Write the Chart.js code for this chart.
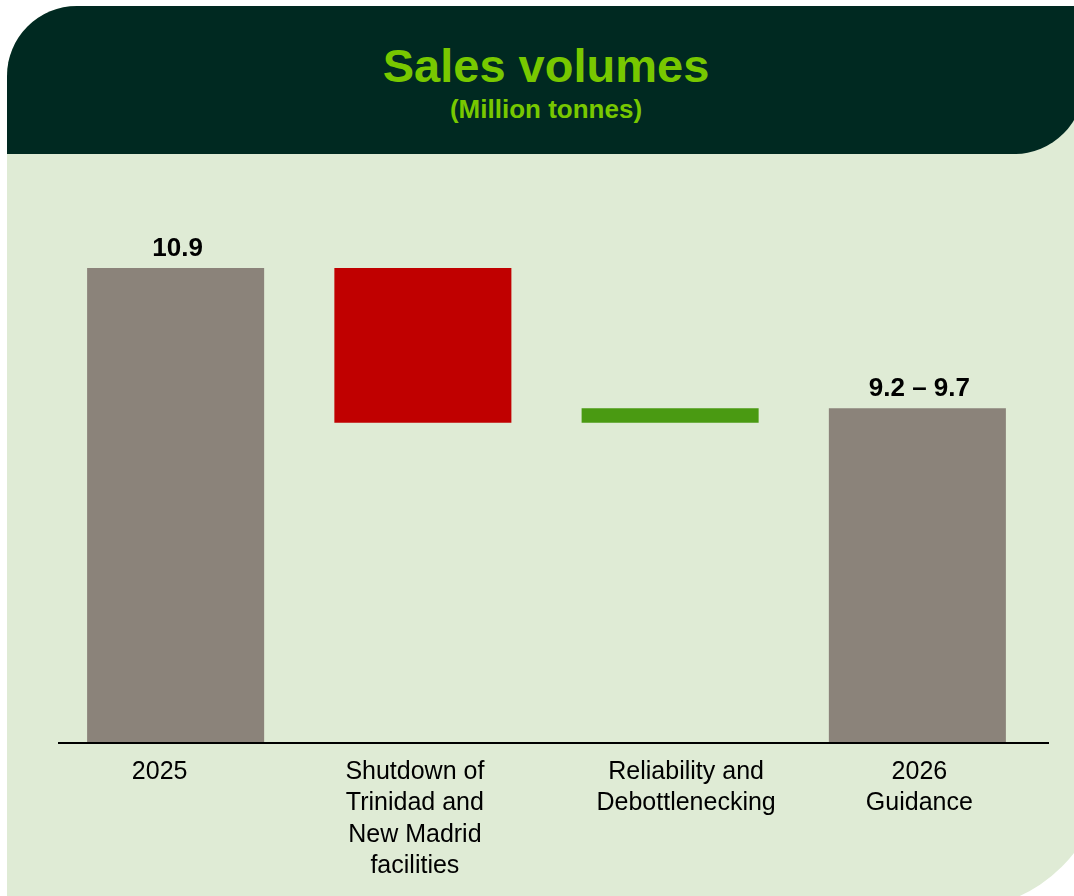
<!DOCTYPE html>
<html>
<head>
<meta charset="utf-8">
<script src="https://cdn.jsdelivr.net/npm/chart.js@4"></script>
<style>
    html, body { margin: 0; padding: 0; background: #ffffff; overflow: hidden; }
    body { width: 1074px; height: 896px; position: relative; font-family: 'Liberation Sans', Arial, sans-serif; }
    .panel {
        position: absolute; left: 7px; top: 6px; width: 1097px; height: 903px;
        background: #dfebd5; border-radius: 70px 0 144px 0;
    }
    .header {
        position: absolute; left: 7px; top: 6px; width: 1077px; height: 148px;
        background: #002921; border-radius: 70px 0 70px 0;
    }
    .title {
        position: absolute; left: 0; width: 1092px; top: 38px; text-align: center;
        color: #78c800; font-weight: bold; font-size: 47px; line-height: 56px;
    }
    .subtitle {
        position: absolute; left: 0; width: 1092px; top: 94px; text-align: center;
        color: #78c800; font-weight: bold; font-size: 26px; line-height: 30px;
    }
    .chart-wrap { position: absolute; left: 0; top: 160px; width: 1074px; height: 736px; }
</style>
</head>
<body>
<div class="panel"></div>
<div class="header"></div>
<div class="title">Sales volumes</div>
<div class="subtitle">(Million tonnes)</div>
<div class="chart-wrap"><canvas id="chart"></canvas></div>

<script>
// data (million tonnes)
const categories = [
    ['2025'],
    ['Shutdown of', 'Trinidad and', 'New Madrid', 'facilities'],
    ['Reliability and', 'Debottlenecking'],
    ['2026', 'Guidance']
];
const totals = [10.9, null, null, 9.45];      // full bars
const changes = [null, -1.6, 0.15, null];     // bridge steps
const valueLabels = ['10.9', '', '', '9.2 \u2013 9.7'];
const barColors = ['#8b837a', '#c00000', '#4a9a12', '#8b837a'];
const axisMin = 6;
const axisMax = 11.5;

// the category text in the original is not quite centred under each bar
const labelShift = [-16, -8, 16, 2];

// build floating ranges for the waterfall
let running = 0;
const ranges = categories.map((_, i) => {
    if (totals[i] !== null) {
        running = totals[i];
        return [axisMin, totals[i]];
    }
    const start = running;
    running = running + changes[i];
    return [Math.min(start, running), Math.max(start, running)];
});

const labelPlugin = {
    id: 'barLabels',
    afterDatasetsDraw(chart) {
        const ctx = chart.ctx;
        const meta = chart.getDatasetMeta(0);
        ctx.save();
        ctx.font = 'bold 26px "Liberation Sans", Arial, sans-serif';
        ctx.fillStyle = '#000000';
        ctx.textAlign = 'center';
        ctx.textBaseline = 'alphabetic';
        meta.data.forEach((bar, i) => {
            if (!valueLabels[i]) return;
            ctx.fillText(valueLabels[i], bar.x + 2, bar.y - 12);
        });
        ctx.restore();
    }
};

// axis line + category text drawn under the bars
const axisPlugin = {
    id: 'axisLine',
    afterDatasetsDraw(chart) {
        const { ctx, chartArea } = chart;
        const xScale = chart.scales.x;
        ctx.save();
        ctx.strokeStyle = '#000000';
        ctx.lineWidth = 2;
        ctx.beginPath();
        ctx.moveTo(chartArea.left + 6, chartArea.bottom + 1);
        ctx.lineTo(chartArea.right + 8, chartArea.bottom + 1);
        ctx.stroke();

        ctx.font = '25px "Liberation Sans", Arial, sans-serif';
        ctx.fillStyle = '#000000';
        ctx.textAlign = 'center';
        ctx.textBaseline = 'middle';
        categories.forEach((lines, i) => {
            const x = xScale.getPixelForValue(i) + labelShift[i];
            lines.forEach((line, j) => {
                ctx.fillText(line, x, chartArea.bottom + 30 + j * 31.5);
            });
        });
        ctx.restore();
    }
};

new Chart(document.getElementById('chart'), {
    type: 'bar',
    data: {
        labels: categories,
        datasets: [{
            data: ranges,
            backgroundColor: barColors,
            borderWidth: 0,
            categoryPercentage: 1,
            barPercentage: 0.716
        }]
    },
    options: {
        responsive: true,
        maintainAspectRatio: false,
        animation: false,
        layout: { padding: { left: 52, right: 33, top: 50, bottom: 0 } },
        plugins: {
            legend: { display: false },
            tooltip: { enabled: false }
        },
        scales: {
            x: {
                grid: { display: false, drawTicks: false },
                border: { display: false },
                ticks: { display: false },
                afterFit(scale) { scale.height = 154; }
            },
            y: {
                display: false,
                min: axisMin,
                max: axisMax
            }
        }
    },
    plugins: [labelPlugin, axisPlugin]
});
</script>
</body>
</html>
